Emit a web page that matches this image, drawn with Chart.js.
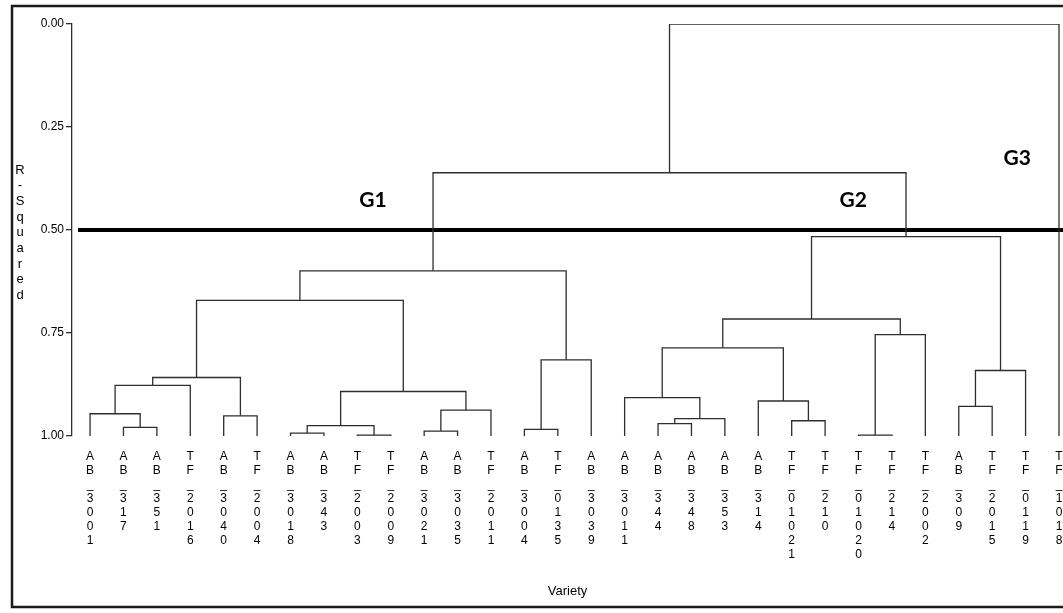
<!DOCTYPE html>
<html>
<head>
<meta charset="utf-8">
<script src="https://cdn.jsdelivr.net/npm/chart.js@4.4.1/dist/chart.umd.min.js"></script>
<style>
    html, body { margin: 0; padding: 0; background: #fff; }
    #wrap { position: relative; width: 1063px; height: 613px; }
</style>
</head>
<body>
<div id="wrap"><canvas id="dendro" width="1063" height="613"></canvas></div>
<script>
// leaves, left to right
const varieties = ['AB_3001', 'AB_317', 'AB_351', 'TF_2016', 'AB_3040', 'TF_2004', 'AB_3018', 'AB_343',
    'TF_2003', 'TF_2009', 'AB_3021', 'AB_3035', 'TF_2011', 'AB_3004', 'TF_0135', 'AB_3039',
    'AB_3011', 'AB_344', 'AB_348', 'AB_353', 'AB_314', 'TF_01021', 'TF_210', 'TF_01020',
    'TF_214', 'TF_2002', 'AB_309', 'TF_2015', 'TF_0119', 'TF_1018'];

// merges: node ids (0-29 leaves, 30+ merged clusters in order) and R-squared level
const mergeA = [1, 0, 31, 4, 32, 6, 8, 35, 10, 38, 37, 34, 13, 42, 41,
    17, 45, 16, 21, 20, 47, 23, 51, 50, 26, 54, 53, 44, 57];
const mergeB = [2, 30, 3, 5, 33, 7, 9, 36, 11, 12, 39, 40, 14, 15, 43,
    18, 19, 46, 22, 48, 49, 24, 25, 52, 27, 28, 55, 56, 29];
const mergeH = [0.979, 0.946, 0.877, 0.951, 0.858, 0.993, 0.998, 0.975, 0.988, 0.937, 0.892, 0.671, 0.984, 0.815, 0.599,
    0.970, 0.958, 0.907, 0.963, 0.915, 0.786, 0.998, 0.754, 0.716, 0.928, 0.841, 0.516, 0.361, 0.00];

const yTicks = [0, 0.25, 0.5, 0.75, 1];
const cutLevel = 0.5;

const groupNames = ['G1', 'G2', 'G3'];
const groupAt = [[8.47, 0.427], [22.84, 0.427], [27.75, 0.325]];

// node positions
const nodeX = varieties.map((v, i) => i);
const nodeH = varieties.map(() => 1);
mergeA.forEach((a, k) => {
    const b = mergeB[k];
    nodeX.push((nodeX[a] + nodeX[b]) / 2);
    nodeH.push(mergeH[k]);
});

const lineColor = '#2e2e2e';
const datasets = mergeA.map((a, k) => {
    const b = mergeB[k];
    return {
        data: [
            {x: nodeX[a], y: nodeH[a]},
            {x: nodeX[a], y: mergeH[k]},
            {x: nodeX[b], y: mergeH[k]},
            {x: nodeX[b], y: nodeH[b]}
        ],
        borderColor: lineColor,
        borderWidth: 1.3,
        showLine: true,
        pointRadius: 0,
        tension: 0
    };
});

datasets.push({
    data: [{x: -0.36, y: cutLevel}, {x: 29.2, y: cutLevel}],
    borderColor: '#000',
    borderWidth: 4,
    showLine: true,
    pointRadius: 0,
    clip: false
});

const extras = {
    id: 'extras',
    beforeDraw(chart) {
        const ctx = chart.ctx;
        ctx.save();
        ctx.fillStyle = '#fff';
        ctx.fillRect(0, 0, chart.width, chart.height);
        ctx.restore();
    },
    afterDraw(chart) {
        const ctx = chart.ctx;
        const xs = chart.scales.x, ys = chart.scales.y;
        ctx.save();

        // frame
        ctx.strokeStyle = '#1a1a1a';
        ctx.lineWidth = 2.5;
        ctx.beginPath();
        ctx.moveTo(1070, 6);
        ctx.lineTo(12, 6);
        ctx.lineTo(12, 607);
        ctx.lineTo(1070, 607);
        ctx.stroke();

        // y title, one letter per line
        ctx.fillStyle = '#000';
        ctx.font = '13px "Liberation Sans", Arial, sans-serif';
        ctx.textAlign = 'center';
        ctx.textBaseline = 'middle';
        'R-Squared'.split('').forEach((c, i) => ctx.fillText(c, 20, 170 + i * 15.7));

        // group names
        ctx.font = 'bold 21px Lato, "Open Sans", sans-serif';
        groupNames.forEach((g, i) => {
            ctx.fillText(g, xs.getPixelForValue(groupAt[i][0]), ys.getPixelForValue(groupAt[i][1]));
        });
        ctx.restore();
    }
};

new Chart(document.getElementById('dendro'), {
    type: 'scatter',
    data: {datasets: datasets},
    options: {
        responsive: false,
        animation: false,
        layout: {padding: {top: 24, left: 0, right: 0, bottom: 0}},
        plugins: {legend: {display: false}, tooltip: {enabled: false}},
        scales: {
            x: {
                type: 'linear',
                min: -0.54,
                max: 29.12,
                grid: {display: false, drawTicks: false},
                border: {display: false},
                afterBuildTicks: (scale) => { scale.ticks = varieties.map((v, i) => ({value: i})); },
                afterFit: (scale) => {
                    scale.height = 177;
                    scale.paddingLeft = 0;
                    scale.paddingRight = 0;
                },
                ticks: {
                    autoSkip: false,
                    maxRotation: 0,
                    minRotation: 0,
                    padding: 14,
                    color: '#000',
                    font: {family: '"Liberation Sans", Arial, sans-serif', size: 12, lineHeight: 14 / 12},
                    callback: (value) => varieties[value] ? varieties[value].split('') : ''
                },
                title: {
                    display: true,
                    text: 'Variety',
                    color: '#000',
                    font: {family: '"Liberation Sans", Arial, sans-serif', size: 13},
                    padding: {top: 0, bottom: 14}
                }
            },
            y: {
                reverse: true,
                min: 0,
                max: 1,
                afterBuildTicks: (scale) => { scale.ticks = yTicks.map(v => ({value: v})); },
                afterFit: (scale) => { scale.width = 72; },
                grid: {display: true, drawOnChartArea: false, drawTicks: true, tickLength: 6, color: lineColor, lineWidth: 1.3},
                border: {display: true, color: lineColor, width: 1.3},
                ticks: {
                    padding: 2,
                    color: '#000',
                    font: {family: '"Liberation Sans", Arial, sans-serif', size: 12},
                    callback: (v) => v.toFixed(2)
                }
            }
        }
    },
    plugins: [extras]
});
</script>
</body>
</html>
